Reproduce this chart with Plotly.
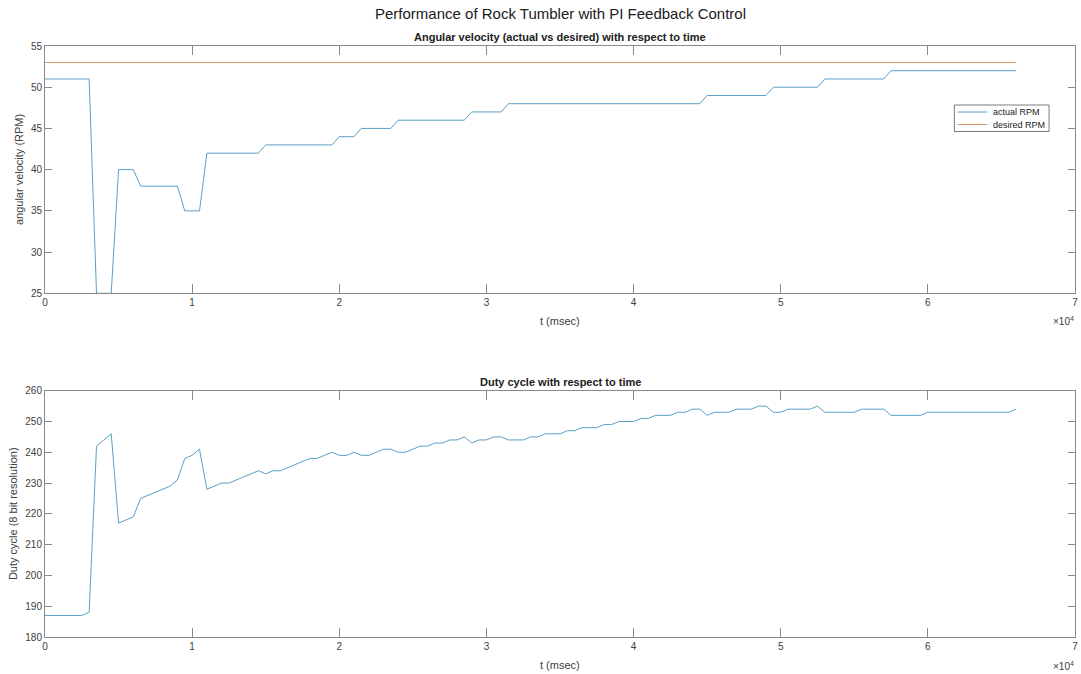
import plotly.graph_objects as go

# sample times (ms)
t_ms = list(range(0, 66001, 500))

actual_rpm = [
    51, 51, 51, 51, 51, 51, 51, 25, 25, 25,
    40, 40, 40, 38, 38, 38, 38, 38, 38, 35,
    35, 35, 42, 42, 42, 42, 42, 42, 42, 42,
    43, 43, 43, 43, 43, 43, 43, 43, 43, 43,
    44, 44, 44, 45, 45, 45, 45, 45, 46, 46,
    46, 46, 46, 46, 46, 46, 46, 46, 47, 47,
    47, 47, 47, 48, 48, 48, 48, 48, 48, 48,
    48, 48, 48, 48, 48, 48, 48, 48, 48, 48,
    48, 48, 48, 48, 48, 48, 48, 48, 48, 48,
    49, 49, 49, 49, 49, 49, 49, 49, 49, 50,
    50, 50, 50, 50, 50, 50, 51, 51, 51, 51,
    51, 51, 51, 51, 51, 52, 52, 52, 52, 52,
    52, 52, 52, 52, 52, 52, 52, 52, 52, 52,
    52, 52, 52,
]

desired_rpm = [53] * len(t_ms)

duty_cycle = [
    187, 187, 187, 187, 187, 187, 188, 242, 244, 246,
    217, 218, 219, 225, 226, 227, 228, 229, 231, 238,
    239, 241, 228, 229, 230, 230, 231, 232, 233, 234,
    233, 234, 234, 235, 236, 237, 238, 238, 239, 240,
    239, 239, 240, 239, 239, 240, 241, 241, 240, 240,
    241, 242, 242, 243, 243, 244, 244, 245, 243, 244,
    244, 245, 245, 244, 244, 244, 245, 245, 246, 246,
    246, 247, 247, 248, 248, 248, 249, 249, 250, 250,
    250, 251, 251, 252, 252, 252, 253, 253, 254, 254,
    252, 253, 253, 253, 254, 254, 254, 255, 255, 253,
    253, 254, 254, 254, 254, 255, 253, 253, 253, 253,
    253, 254, 254, 254, 254, 252, 252, 252, 252, 252,
    253, 253, 253, 253, 253, 253, 253, 253, 253, 253,
    253, 253, 254,
]

x_tickvals = [0, 10000, 20000, 30000, 40000, 50000, 60000, 70000]
x_ticktext = ["0", "1", "2", "3", "4", "5", "6", "7"]
legend_names = ["actual RPM", "desired RPM"]

BLUE = "#5a9fc6"
ORANGE = "#d9956a"
FONT = "Liberation Sans, Arial, Helvetica, sans-serif"
AXC = "#8a8a8a"
TXT = "#404040"

W, H = 1081, 674
ml, mr, mt, mb = 45, 3, 46, 37
pw, ph = W - ml - mr, H - mt - mb


def fy(page_y):  # page pixel y -> paper fraction
    return (H - mb - page_y) / ph


def fx(page_x):  # page pixel x -> paper fraction
    return (page_x - ml) / pw


fig = go.Figure()
fig.add_trace(go.Scatter(x=t_ms, y=actual_rpm, mode="lines", name=legend_names[0],
                         line=dict(color=BLUE, width=1), xaxis="x", yaxis="y"))
fig.add_trace(go.Scatter(x=t_ms, y=desired_rpm, mode="lines", name=legend_names[1],
                         line=dict(color=ORANGE, width=1), xaxis="x", yaxis="y"))
fig.add_trace(go.Scatter(x=t_ms, y=duty_cycle, mode="lines", name="duty cycle",
                         line=dict(color=BLUE, width=1), xaxis="x2", yaxis="y2"))

top_dom = [fy(293.3), 1.0]
bot_dom = [0.0, fy(390.7)]

xcommon = dict(range=[0, 70000], tickvals=x_tickvals, ticktext=x_ticktext,
               showline=True, linecolor=AXC, linewidth=1, mirror="ticks",
               ticks="inside", ticklen=9, tickcolor=AXC, showgrid=False,
               zeroline=False, ticklabeloverflow="allow",
               tickfont=dict(family=FONT, size=10, color=TXT))
ycommon = dict(showline=True, linecolor=AXC, linewidth=1, mirror="ticks",
               ticks="inside", ticklen=7, tickcolor=AXC, showgrid=False,
               zeroline=False, tickfont=dict(family=FONT, size=10, color=TXT))

fig.update_layout(
    width=W, height=H,
    margin=dict(l=ml, r=mr, t=mt, b=mb),
    paper_bgcolor="white", plot_bgcolor="white",
    font=dict(family=FONT, color=TXT),
    xaxis=dict(domain=[0, 1], anchor="y", **xcommon),
    yaxis=dict(domain=top_dom, anchor="x", range=[25, 55], dtick=5, **ycommon),
    xaxis2=dict(domain=[0, 1], anchor="y2", **xcommon),
    yaxis2=dict(domain=bot_dom, anchor="x2", range=[180, 260], dtick=10, **ycommon),
    showlegend=False,
)


def text(t, x, y, size, color=TXT, angle=0, xanchor="center"):
    return dict(text=t, x=x, xref="paper", y=y, yref="paper", showarrow=False,
                xanchor=xanchor, yanchor="middle", textangle=angle,
                font=dict(family=FONT, size=size, color=color))


ann = [
    text("Performance of Rock Tumbler with PI Feedback Control", 0.5, fy(14), 15, "#202020"),
    text("<b>Angular velocity (actual vs desired) with respect to time</b>", 0.5, fy(37), 11, "#202020"),
    text("<b>Duty cycle with respect to time</b>", 0.5, fy(382), 11, "#202020"),
    text("t (msec)", 0.5, fy(321), 11),
    text("t (msec)", 0.5, fy(665), 11),
    text("×10<sup>4</sup>", fx(1079), fy(321), 10, xanchor="right"),
    text("×10<sup>4</sup>", fx(1079), fy(666), 10, xanchor="right"),
    text("angular velocity (RPM)", fx(19), fy(170), 11, angle=-90),
    text("Duty cycle (8 bit resolution)", fx(13), fy(514), 11, angle=-90),
    # legend entries
    text(legend_names[0], fx(994), fy(112), 9, "#202020", xanchor="left"),
    text(legend_names[1], fx(994), fy(124.5), 9, "#202020", xanchor="left"),
]

shapes = [
    dict(type="rect", xref="paper", yref="paper", x0=fx(957), x1=fx(1052),
         y0=fy(131.5), y1=fy(105), line=dict(color="#7a7a7a", width=1),
         fillcolor="white", layer="above"),
    dict(type="line", xref="paper", yref="paper", x0=fx(960), x1=fx(990),
         y0=fy(112), y1=fy(112), line=dict(color=BLUE, width=1), layer="above"),
    dict(type="line", xref="paper", yref="paper", x0=fx(960), x1=fx(990),
         y0=fy(124.5), y1=fy(124.5), line=dict(color=ORANGE, width=1), layer="above"),
]

fig.update_layout(annotations=ann, shapes=shapes)

# remove the default page margin so the figure sits at the window's top-left corner
fig.write_html(
    "out.html",
    config={"displayModeBar": False},
    post_script="document.body.style.margin='0';document.body.style.overflow='hidden';",
)
